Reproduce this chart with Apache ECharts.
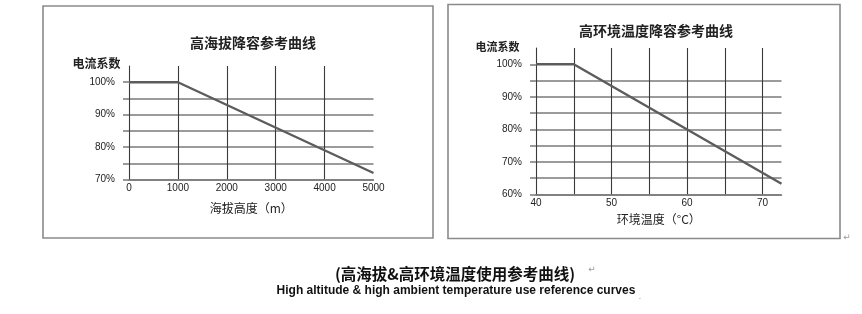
<!DOCTYPE html>
<html>
<head>
<meta charset="utf-8">
<script src="https://cdn.jsdelivr.net/npm/echarts@6/dist/echarts.min.js"></script>
<style>
  html, body { margin: 0; padding: 0; background: #fff; }
  #chart { width: 862px; height: 314px; }
</style>
</head>
<body>
<div id="chart"></div>
<script>
// Altitude derating curve (current factor, %)
const altitudeM = [0, 1000, 5000];
const altitudeFactor = [100, 100, 72];
const altitudeTicks = [0, 1000, 2000, 3000, 4000, 5000];

// Ambient temperature derating curve (current factor, %)
const temperatureC = [40, 45, 72.5];
const temperatureFactor = [100, 100, 63.3];
const temperatureTicks = [40, 50, 60, 70];

// Y axis ticks / labels
const altFactorTicks = [70, 75, 80, 85, 90, 95, 100];
const altFactorLabels = [70, 80, 90, 100];
const tempFactorTicks = [60, 65, 70, 75, 80, 85, 90, 95, 100];
const tempFactorLabels = [60, 70, 80, 90, 100];

const TEXT = '#222';
const HGRID = { color: '#7a7a7a', width: 1.5 };
const VGRID = { color: '#3a3a3a', width: 1.1 };
const FONT = '"Liberation Sans", Arial, "Noto Sans CJK SC", sans-serif';
const CJK = '"Noto Sans CJK SC", sans-serif';

function pairs(xs, ys) { return xs.map((x, i) => [x, ys[i]]); }

function xAxisOf(gridIndex, min, max, interval, labels, name, nameGap) {
  return {
    type: 'value', gridIndex, min, max, interval,
    name, nameLocation: 'middle', nameGap,
    nameTextStyle: { fontFamily: CJK, fontSize: 12, color: TEXT },
    axisLine: { show: true, lineStyle: HGRID },
    axisTick: { show: false },
    axisLabel: { customValues: labels, margin: 4, fontSize: 10, color: '#222', fontFamily: FONT,
                 formatter: v => String(v) },
    splitLine: { show: true, showMinLine: false, showMaxLine: false, lineStyle: VGRID }
  };
}

function yAxisOf(gridIndex, min, max, ticks, labels) {
  return {
    type: 'value', gridIndex, min, max, interval: 5,
    axisLine: { show: true, onZero: false, lineStyle: VGRID },
    axisTick: { show: true, inside: false, length: 6, customValues: ticks, lineStyle: HGRID },
    axisLabel: { customValues: labels, margin: 14, fontSize: 10, color: '#222', fontFamily: FONT,
                 formatter: v => v + '%' },
    splitLine: { show: true, showMinLine: true, showMaxLine: false, lineStyle: HGRID }
  };
}

const lineStyle = { color: '#5c5c5c', width: 2.4 };

const chart = echarts.init(document.getElementById('chart'), null, { renderer: 'canvas' });
chart.setOption({
  backgroundColor: '#fff',
  animation: false,
  title: [
    { text: '高海拔降容参考曲线', left: 248, top: 31, textAlign: 'center',
      textStyle: { fontFamily: CJK, fontSize: 14, fontWeight: 'bold', color: TEXT } },
    { text: '高环境温度降容参考曲线', left: 651, top: 19, textAlign: 'center',
      textStyle: { fontFamily: CJK, fontSize: 14, fontWeight: 'bold', color: TEXT } }
  ],
  grid: [
    { left: 129, top: 66, width: 244.5, height: 113.5 },
    { left: 536, top: 48, width: 245.5, height: 146.5 }
  ],
  xAxis: [
    xAxisOf(0, 0, 5000, 1000, altitudeTicks, '海拔高度（m）', 23),
    xAxisOf(1, 40, 72.5, 5, temperatureTicks, '环境温度（°C）', 19)
  ],
  yAxis: [
    yAxisOf(0, 70, 105, altFactorTicks, altFactorLabels),
    yAxisOf(1, 60, 105, tempFactorTicks, tempFactorLabels)
  ],
  series: [
    { type: 'line', xAxisIndex: 0, yAxisIndex: 0, data: pairs(altitudeM, altitudeFactor),
      symbol: 'none', lineStyle, silent: true, z: 5 },
    { type: 'line', xAxisIndex: 1, yAxisIndex: 1, data: pairs(temperatureC, temperatureFactor),
      symbol: 'none', lineStyle, silent: true, z: 5 }
  ],
  graphic: [
    // panel frames
    { type: 'rect', shape: { x: 43, y: 6, width: 390, height: 232 },
      style: { fill: 'none', stroke: '#8a8a8a', lineWidth: 1.6 } },
    { type: 'rect', shape: { x: 448, y: 4.5, width: 392, height: 234 },
      style: { fill: 'none', stroke: '#8a8a8a', lineWidth: 1.6 } },
    // y axis captions
    { type: 'text', x: 96.5, y: 63, style: { text: '电流系数', font: 'bold 12px ' + CJK,
      fill: TEXT, align: 'center', verticalAlign: 'middle' } },
    { type: 'text', x: 497.5, y: 47, style: { text: '电流系数', font: 'bold 11px ' + CJK,
      fill: TEXT, align: 'center', verticalAlign: 'middle' } },
    // captions below the panels
    { type: 'text', x: 455, y: 274, style: { text: '(高海拔&高环境温度使用参考曲线)',
      font: 'bold 15.5px ' + CJK, fill: '#111', align: 'center', verticalAlign: 'middle' } },
    { type: 'text', x: 456, y: 290.5, style: { text: 'High altitude & high ambient temperature use reference curves',
      font: 'bold 12px "Liberation Sans", Arial, sans-serif', fill: '#111', align: 'center', verticalAlign: 'middle' } },
    // paragraph marks
    { type: 'text', x: 592, y: 270, style: { text: '↵', font: '9px "DejaVu Sans"', fill: '#999',
      align: 'center', verticalAlign: 'middle' } },
    { type: 'text', x: 640, y: 297, style: { text: '.', font: '9px "DejaVu Sans"', fill: '#999',
      align: 'center', verticalAlign: 'middle' } },
    { type: 'text', x: 847, y: 238, style: { text: '↵', font: '9px "DejaVu Sans"', fill: '#999',
      align: 'center', verticalAlign: 'middle' } }
  ]
});
</script>
</body>
</html>
